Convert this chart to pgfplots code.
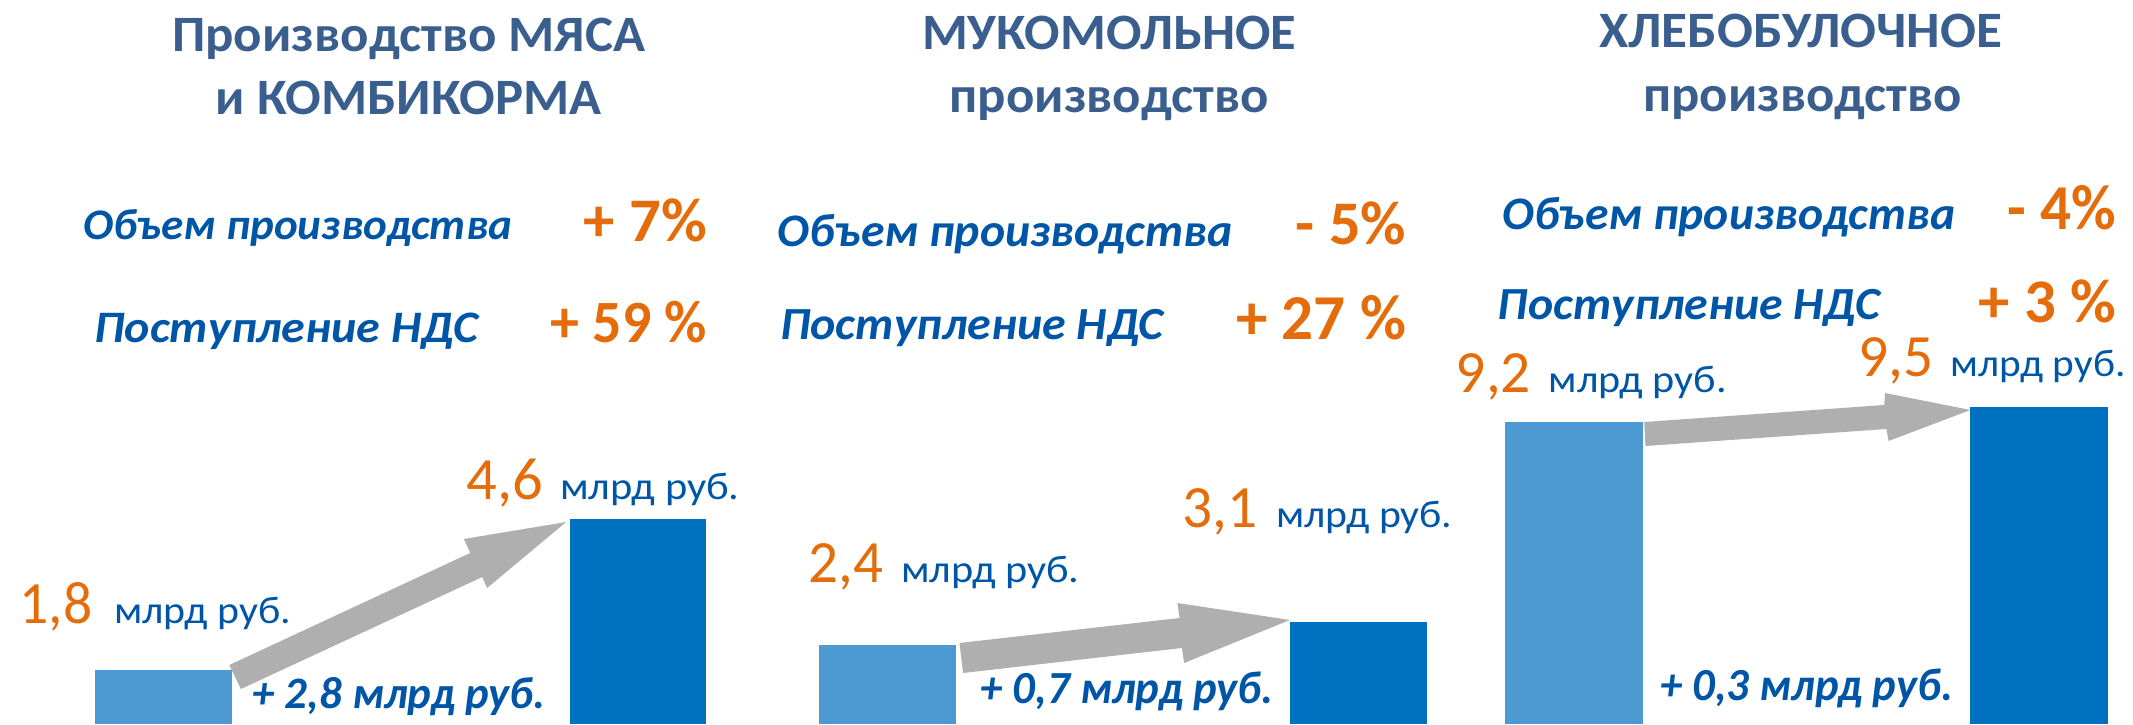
\documentclass[border=0pt]{standalone}
\usepackage{fontspec}
\setmainfont{Carlito}
\usepackage{graphicx}
\usepackage{pgfplots}
\pgfplotsset{compat=1.18}
\definecolor{ttl}{HTML}{3A5F8F}
\definecolor{tblue}{HTML}{0056A6}
\definecolor{torange}{HTML}{E46C0A}
\definecolor{barA}{HTML}{4D9AD3}
\definecolor{barB}{HTML}{0070C0}
\definecolor{arr}{HTML}{AFAFAF}
\pgfplotsset{panel/.style={scale only axis, hide axis, clip=true, xmin=-0.3, xmax=1.3,
  height=212pt, anchor=south west}}
\newsavebox\tbox
\newcommand{\fitw}[2]{\sbox\tbox{#2}\pgfmathsetmacro\rr{#1/\the\wd\tbox}\scalebox{\rr}[1]{\usebox\tbox}}
\newcommand{\ttlf}{\fontsize{25.5pt}{30pt}\selectfont\bfseries\color{ttl}}
\newcommand{\lblf}[1]{\fontsize{#1}{#1}\selectfont\bfseries\itshape\color{tblue}}
\newcommand{\pctf}[1]{\fontsize{#1}{#1}\selectfont\bfseries\color{torange}}
% \val{numwidth}{gap}{unitwidth}{number}
\newcommand{\val}[4]{\fitw{#1}{\fontsize{30pt}{30pt}\selectfont\color{torange}#4}\hspace{#2}\fitw{#3}{\fontsize{19.3pt}{20pt}\selectfont\color{tblue}млрд руб.}}
\begin{document}
\begin{tikzpicture}[x=0.5pt,y=0.5pt]
\path[use as bounding box] (0,0) rectangle (2133,724);
% Panel 1
\begin{axis}[panel, at={(10.65pt,0pt)}, width=379.4pt, ymin=0.8, ymax=8.662]
\addplot[ybar, bar width=0.288, bar shift=0pt, fill=barA, draw=none] coordinates {(0,1.8)};
\addplot[ybar, bar width=0.288, bar shift=0pt, fill=barB, draw=none] coordinates {(1,4.6)};
\end{axis}
% Panel 2
\begin{axis}[panel, at={(373.4pt,0pt)}, width=376.2pt, ymin=0, ymax=12.89]
\addplot[ybar, bar width=0.291, bar shift=0pt, fill=barA, draw=none] coordinates {(0,2.4)};
\addplot[ybar, bar width=0.291, bar shift=0pt, fill=barB, draw=none] coordinates {(1,3.1)};
\end{axis}
% Panel 3
\begin{axis}[panel, at={(717.2pt,0pt)}, width=348.75pt, xmax=1.2, ymin=3.16, ymax=11.64]
\addplot[ybar, bar width=0.295, bar shift=0pt, fill=barA, draw=none] coordinates {(0,9.2)};
\addplot[ybar, bar width=0.295, bar shift=0pt, fill=barB, draw=none] coordinates {(1,9.5)};
\end{axis}
% arrows
\fill[arr] (229.3,59) -- (470.2,171) -- (463.9,185) -- (566.1,202) -- (487.1,136) -- (482.3,147) -- (240.9,35) -- cycle;
\fill[arr] (959.5,81) -- (1179.6,106) -- (1177.4,121) -- (1289.9,104) -- (1184.1,61) -- (1181.9,76) -- (963.1,51) -- cycle;
\fill[arr] (1644.2,302) -- (1884.2,319) -- (1885.1,331) -- (1970.4,314) -- (1888.6,283) -- (1886.4,295) -- (1645.5,278) -- cycle;
\begin{scope}[every node/.style={inner sep=0pt}]
% titles
\node[anchor=base] at (408.7,672) {\fitw{236.5pt}{\ttlf Производство МЯСА}};
\node[anchor=base] at (408.7,609) {\fitw{192.9pt}{\ttlf и КОМБИКОРМА}};
\node[anchor=base] at (1109.2,674) {\fitw{187.15pt}{\ttlf МУКОМОЛЬНОЕ}};
\node[anchor=base] at (1109.2,611) {\fitw{159.55pt}{\ttlf производство}};
\node[anchor=base] at (1800.7,676) {\fitw{201.55pt}{\ttlf ХЛЕБОБУЛОЧНОЕ}};
\node[anchor=base] at (1802.5,612) {\fitw{159.15pt}{\ttlf производство}};
% rows
\node[anchor=base west] at (82.7,484) {\fitw{214.65pt}{\lblf{21.8pt}Объем производства}};
\node[anchor=base east] at (707.2,482) {\fitw{61.55pt}{\pctf{31pt}+ 7\%}};
\node[anchor=base west] at (94.1,381) {\fitw{191.75pt}{\lblf{22.5pt}Поступление НДС}};
\node[anchor=base east] at (707.2,381) {\fitw{78.1pt}{\pctf{30pt}+ 59 \%}};
\node[anchor=base west] at (777.4,477) {\fitw{227.3pt}{\lblf{23.3pt}Объем производства}};
\node[anchor=base east] at (1406.5,479) {\fitw{55.1pt}{\pctf{31pt}- 5\%}};
\node[anchor=base west] at (779.7,384) {\fitw{191.7pt}{\lblf{23pt}Поступление НДС}};
\node[anchor=base east] at (1406.5,384) {\fitw{84.95pt}{\pctf{32pt}+ 27 \%}};
\node[anchor=base west] at (1501.9,494) {\fitw{226.5pt}{\lblf{23.3pt}Объем производства}};
\node[anchor=base east] at (2116.3,494) {\fitw{54.15pt}{\pctf{32pt}- 4\%}};
\node[anchor=base west] at (1497.5,404) {\fitw{191.15pt}{\lblf{23pt}Поступление НДС}};
\node[anchor=base east] at (2116.3,401) {\fitw{68.55pt}{\pctf{31pt}+ 3 \%}};
% values
\node[anchor=base west] at (19.4,101) {\val{36.35pt}{10.9pt}{88.45pt}{1,8}};
\node[anchor=base west] at (466.3,224) {\val{38.3pt}{8.45pt}{89.7pt}{4,6}};
\node[anchor=base west] at (808.2,141) {\val{37.3pt}{8.9pt}{89.3pt}{2,4}};
\node[anchor=base west] at (1181.8,197) {\val{37.5pt}{9.4pt}{88.15pt}{3,1}};
\node[anchor=base west] at (1455.5,331) {\val{37.55pt}{8.85pt}{89.05pt}{9,2}};
\node[anchor=base west] at (1857.7,347) {\val{37.55pt}{8.85pt}{87.3pt}{9,5}};
% differences
\node[anchor=base west] at (252,16) {\fitw{146.65pt}{\lblf{22.5pt}+ 2,8 млрд руб.}};
\node[anchor=base west] at (980.1,21) {\fitw{146.65pt}{\lblf{23pt}+ 0,7 млрд руб.}};
\node[anchor=base west] at (1659.7,24) {\fitw{146.5pt}{\lblf{23pt}+ 0,3 млрд руб.}};
\end{scope}
\end{tikzpicture}
\end{document}
